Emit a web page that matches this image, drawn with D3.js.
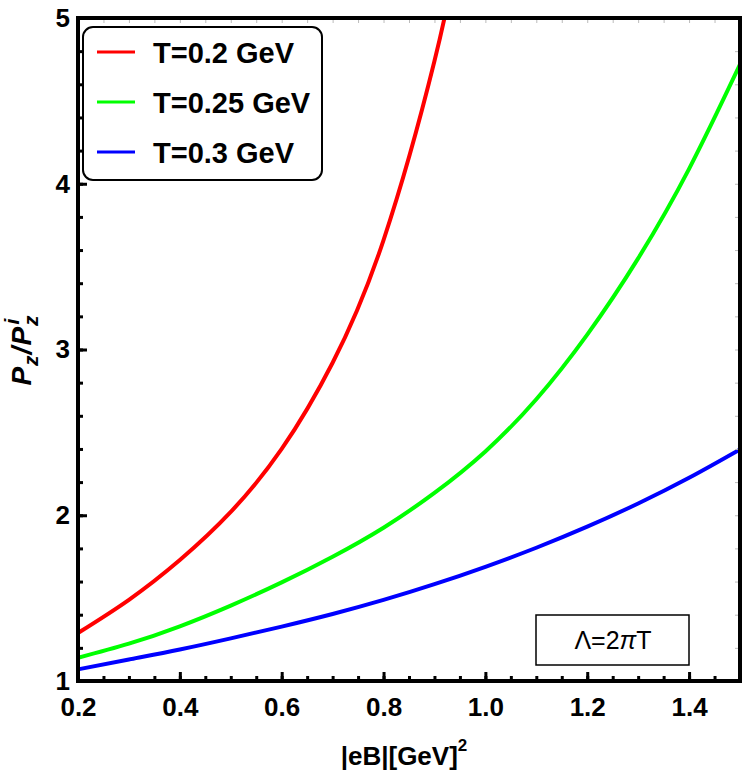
<!DOCTYPE html>
<html>
<head>
  <meta charset="utf-8">
  <title>Pz/Pz^i vs |eB|</title>
  <script src="https://d3js.org/d3.v7.min.js"></script>
  <style>
    body { margin: 0; background: #fff; }
    text { font-family: "Liberation Sans", Arial, sans-serif; }
  </style>
</head>
<body>
<svg width="750" height="782"></svg>

<script>
  // data
  var seriesNames = ["T=0.2 GeV", "T=0.25 GeV", "T=0.3 GeV"];
  var seriesColors = ["#ff0000", "#00ff00", "#0000ff"];

  var redX = [0.2, 0.3, 0.4, 0.5, 0.6, 0.7, 0.8, 0.9, 0.95];
  var redY = [1.29, 1.49, 1.73, 2.02, 2.40, 2.92, 3.66, 4.74, 5.46];

  var greenX = [0.2, 0.3, 0.4, 0.5, 0.6, 0.7, 0.8, 0.9, 1.0, 1.1, 1.2, 1.3, 1.4, 1.5];
  var greenY = [1.14, 1.225, 1.33, 1.455, 1.595, 1.75, 1.925, 2.135, 2.385, 2.70, 3.09, 3.55, 4.09, 4.72];

  var blueX = [0.2, 0.3, 0.4, 0.5, 0.6, 0.7, 0.8, 0.9, 1.0, 1.1, 1.2, 1.3, 1.4, 1.5];
  var blueY = [1.07, 1.13, 1.19, 1.257, 1.328, 1.404, 1.489, 1.584, 1.689, 1.804, 1.931, 2.071, 2.226, 2.397];

  var xTicks = [0.2, 0.4, 0.6, 0.8, 1.0, 1.2, 1.4];
  var xTickLabels = ["0.2", "0.4", "0.6", "0.8", "1.0", "1.2", "1.4"];
  var yTicks = [1, 2, 3, 4, 5];
  var yTickLabels = ["1", "2", "3", "4", "5"];
  var xMinor = d3.range(0.2, 1.5001, 0.05);
  var yMinor = d3.range(1, 5.0001, 0.2);

  var svg = d3.select("svg");
  // plot area (don't use "top" - it clashes with window.top)
  var pLeft = 78, pRight = 740, pTop = 18, pBottom = 681;

  var x = d3.scaleLinear().domain([0.2, 1.5]).range([pLeft, pRight]);
  var y = d3.scaleLinear().domain([1, 5]).range([pBottom, pTop]);

  // clip for the curves
  svg.append("clipPath").attr("id", "clip")
    .append("rect")
    .attr("x", pLeft).attr("y", pTop)
    .attr("width", pRight - pLeft).attr("height", pBottom - pTop);

  var line = d3.line()
    .x(function(d) { return x(d[0]); })
    .y(function(d) { return y(d[1]); })
    .curve(d3.curveNatural);

  var series = [
    d3.zip(redX, redY),
    d3.zip(greenX, greenY),
    d3.zip(blueX, blueY)
  ];

  svg.append("g").attr("clip-path", "url(#clip)")
    .selectAll("path")
    .data(series)
    .enter().append("path")
    .attr("d", line)
    .attr("fill", "none")
    .attr("stroke", function(d, i) { return seriesColors[i]; })
    .attr("stroke-width", 4);

  // faint ticks on top and right
  svg.append("g")
    .attr("transform", "translate(0," + pTop + ")")
    .call(d3.axisTop(x).tickValues(xMinor).tickSize(-5).tickFormat(""))
    .call(function(g) {
      g.select(".domain").remove();
      g.selectAll("line").attr("stroke", "#bbb").attr("stroke-width", 1);
    });
  svg.append("g")
    .attr("transform", "translate(" + pRight + ",0)")
    .call(d3.axisRight(y).tickValues(yMinor).tickSize(-5).tickFormat(""))
    .call(function(g) {
      g.select(".domain").remove();
      g.selectAll("line").attr("stroke", "#bbb").attr("stroke-width", 1);
    });

  // minor ticks bottom / left
  svg.append("g")
    .attr("transform", "translate(0," + pBottom + ")")
    .call(d3.axisBottom(x).tickValues(xMinor).tickSize(-5).tickFormat(""))
    .call(function(g) {
      g.select(".domain").remove();
      g.selectAll("line").attr("stroke", "#000").attr("stroke-width", 3);
    });
  svg.append("g")
    .attr("transform", "translate(" + pLeft + ",0)")
    .call(d3.axisLeft(y).tickValues(yMinor).tickSize(-5).tickFormat(""))
    .call(function(g) {
      g.select(".domain").remove();
      g.selectAll("line").attr("stroke", "#000").attr("stroke-width", 3);
    });

  // major ticks + labels
  svg.append("g")
    .attr("transform", "translate(0," + pBottom + ")")
    .call(d3.axisBottom(x).tickValues(xTicks).tickSize(-9).tickPadding(17)
      .tickFormat(function(d, i) { return xTickLabels[i]; }))
    .call(function(g) {
      g.select(".domain").remove();
      g.selectAll("line").attr("stroke", "#000").attr("stroke-width", 3);
      g.selectAll("text").attr("fill", "#000")
        .style("font-size", "26px").style("font-weight", "bold")
        .style("font-family", "'Liberation Sans', Arial, sans-serif");
    });
  svg.append("g")
    .attr("transform", "translate(" + pLeft + ",0)")
    .call(d3.axisLeft(y).tickValues(yTicks).tickSize(-9).tickPadding(8)
      .tickFormat(function(d, i) { return yTickLabels[i]; }))
    .call(function(g) {
      g.select(".domain").remove();
      g.selectAll("line").attr("stroke", "#000").attr("stroke-width", 3);
      g.selectAll("text").attr("fill", "#000")
        .style("font-size", "26px").style("font-weight", "bold")
        .style("font-family", "'Liberation Sans', Arial, sans-serif");
    });

  // frame
  svg.append("rect")
    .attr("x", pLeft).attr("y", pTop)
    .attr("width", pRight - pLeft).attr("height", pBottom - pTop)
    .attr("fill", "none").attr("stroke", "#000").attr("stroke-width", 4);

  // axis titles
  var xt = svg.append("text")
    .attr("x", 404).attr("y", 765)
    .attr("text-anchor", "middle")
    .style("font-size", "26px").style("font-weight", "bold");
  xt.append("tspan").text("|eB|[GeV]");
  xt.append("tspan").attr("dy", -14).style("font-size", "17px").text("2");

  var yt = svg.append("text")
    .attr("transform", "translate(31,350) rotate(-90)")
    .attr("text-anchor", "middle")
    .style("font-size", "28px").style("font-weight", "bold").style("font-style", "italic")
    .style("letter-spacing", "1px");
  yt.append("tspan").text("P");
  yt.append("tspan").attr("dy", 7).style("font-size", "21px").text("z");
  yt.append("tspan").attr("dy", -7).text("/P");
  yt.append("tspan").attr("dy", 7).style("font-size", "21px").text("z");
  yt.append("tspan").attr("dx", -10).attr("dy", -19).style("font-size", "21px").text("i");

  // legend
  var legend = svg.append("g");
  legend.append("rect")
    .attr("x", 83).attr("y", 27)
    .attr("width", 239).attr("height", 153)
    .attr("rx", 10).attr("ry", 10)
    .attr("fill", "#fff").attr("stroke", "#000").attr("stroke-width", 2);

  var rows = legend.selectAll("g.row")
    .data(seriesNames)
    .enter().append("g")
    .attr("class", "row")
    .attr("transform", function(d, i) { return "translate(0," + (52 + i * 50) + ")"; });
  rows.append("line")
    .attr("x1", 97).attr("x2", 135)
    .attr("stroke", function(d, i) { return seriesColors[i]; })
    .attr("stroke-width", 3);
  rows.append("text")
    .attr("x", 153).attr("y", 11)
    .style("font-size", "29px").style("font-weight", "bold")
    .text(function(d) { return d; });

  // annotation
  svg.append("rect")
    .attr("x", 536).attr("y", 615)
    .attr("width", 153).attr("height", 50)
    .attr("fill", "#fff").attr("stroke", "#000").attr("stroke-width", 1.5);
  var ann = svg.append("text")
    .attr("x", 613).attr("y", 649)
    .attr("text-anchor", "middle")
    .style("font-size", "25px");
  ann.append("tspan").text("Λ=2");
  ann.append("tspan").style("font-style", "italic").text("π");
  ann.append("tspan").text("T");
</script>
</body>
</html>
